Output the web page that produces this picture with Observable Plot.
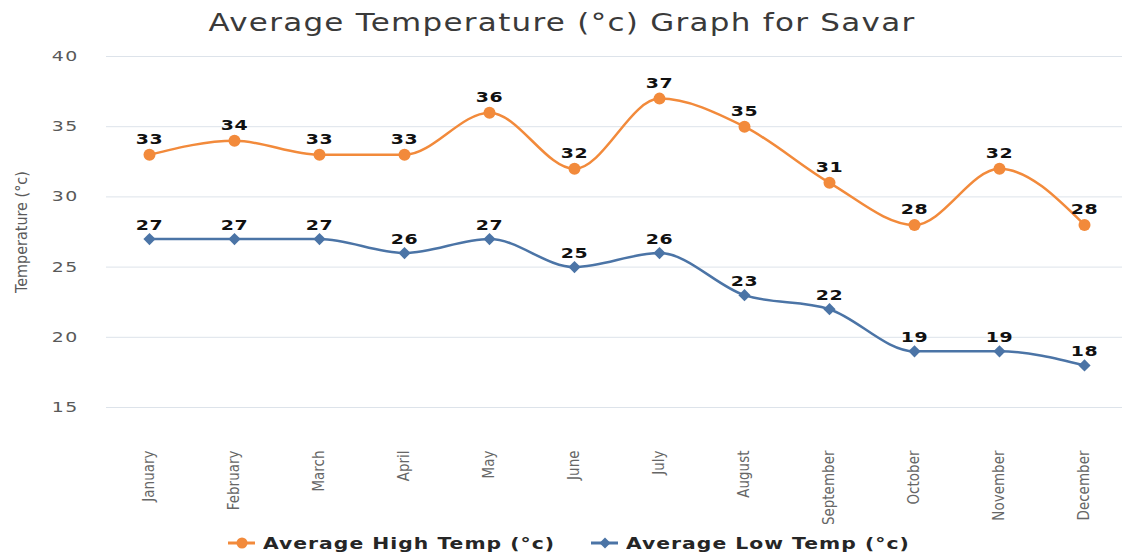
<!DOCTYPE html>
<html>
<head>
<meta charset="utf-8">
<script src="https://cdn.jsdelivr.net/npm/d3@7"></script>
<script src="https://cdn.jsdelivr.net/npm/@observablehq/plot@0.6"></script>
<style>
  html, body { margin: 0; padding: 0; background: #fff; }
  body { width: 1122px; height: 554px; overflow: hidden; font-family: "DejaVu Sans", sans-serif; }
  #title { height: 40px; line-height: 46px; text-align: center; color: #3a3a3a; padding-left: 2px; }
  #title span { display: inline-block; font-size: 24px; letter-spacing: 1px; transform: scaleX(1.29); }
  #chart svg { display: block; }
  #legend { display: flex; justify-content: center; align-items: center; gap: 36px; height: 24px; padding-top: 1px; margin-left: 16px; }
  #legend .item { display: flex; align-items: center; gap: 8px; }
  #legend .item span { display: inline-block; font-weight: bold; font-size: 16px; letter-spacing: 0.8px; color: #262626; transform: scaleX(1.27); transform-origin: left center; }
  g[aria-label="y-axis label"] text { font-family: "Liberation Sans Narrow", "DejaVu Sans Condensed", sans-serif; font-size: 16px; fill: #595959; }
</style>
</head>
<body>
<div id="title"><span>Average Temperature (°c) Graph for Savar</span></div>
<div id="chart"></div>
<div id="legend"></div>
<script>
const months = ["January","February","March","April","May","June","July","August","September","October","November","December"];
const highTemps = [33, 34, 33, 33, 36, 32, 37, 35, 31, 28, 32, 28];
const lowTemps = [27, 27, 27, 26, 27, 25, 26, 23, 22, 19, 19, 18];
const yTicks = [15, 20, 25, 30, 35, 40];
const seriesNames = ["Average High Temp (°c)", "Average Low Temp (°c)"];
const seriesColors = ["#f28a3b", "#4b74a6"];

const high = months.map((m, i) => ({month: m, value: highTemps[i]}));
const low = months.map((m, i) => ({month: m, value: lowTemps[i]}));

const labelFont = {fontFamily: "DejaVu Sans", fontWeight: "bold", fontSize: 14, fill: "#111"};

const chart = Plot.plot({
  width: 1122,
  height: 490,
  marginTop: 16,
  marginBottom: 123,
  marginLeft: 106,
  marginRight: 0,
  x: {type: "point", domain: months, range: [148, 1085], padding: 0},
  y: {domain: [15, 40]},
  marks: [
    Plot.gridY(yTicks, {stroke: "#dde3ea", strokeOpacity: 1, strokeWidth: 1}),
    Plot.axisY(yTicks, {tickSize: 0, tickPadding: 28, fontSize: 14, fill: "#595959", fontFamily: "DejaVu Sans", label: "Temperature (°c)", labelAnchor: "center", labelArrow: "none", labelOffset: 91}),
    Plot.axisX({tickSize: 0, tickPadding: 43, tickRotate: -90, fontSize: 15, fill: "#666", fontFamily: "Liberation Sans Narrow, DejaVu Sans Condensed, sans-serif", label: null}),
    Plot.line(high, {x: "month", y: "value", stroke: seriesColors[0], strokeWidth: 2.5, curve: "monotone-x"}),
    Plot.line(low, {x: "month", y: "value", stroke: seriesColors[1], strokeWidth: 2.5, curve: "monotone-x"}),
    Plot.dot(high, {x: "month", y: "value", fill: seriesColors[0], r: 6, symbol: "circle"}),
    Plot.dot(low, {x: "month", y: "value", fill: seriesColors[1], r: 5.5, symbol: "diamond2"}),
    Plot.text(high, {x: "month", y: "value", text: "value", dy: -15, ...labelFont}),
    Plot.text(low, {x: "month", y: "value", text: "value", dy: -14, ...labelFont})
  ]
});
document.getElementById("chart").appendChild(chart);

// widen glyphs horizontally (the reference text is horizontally stretched);
// appended to Plot's own translate so positions stay those of the scales
function stretch(selector, k, spacing) {
  chart.querySelectorAll(selector).forEach(el => {
    const t = el.getAttribute("transform") || "";
    el.setAttribute("transform", `${t} scale(${k},1)`);
    if (spacing) el.style.letterSpacing = spacing;
  });
}
stretch('g[aria-label="y-axis tick label"] text', 1.35, "1px");
stretch('g[aria-label="text"] text', 1.35, "0.5px");

const legend = document.getElementById("legend");
seriesNames.forEach((name, i) => {
  const item = document.createElement("div");
  item.className = "item";
  const sym = i === 0
    ? `<circle cx="14" cy="7" r="5.5" fill="${seriesColors[i]}"/>`
    : `<path d="M14 1.5 L19.5 7 L14 12.5 L8.5 7 Z" fill="${seriesColors[i]}"/>`;
  item.innerHTML = `<svg width="27" height="14"><line x1="0" x2="27" y1="7" y2="7" stroke="${seriesColors[i]}" stroke-width="3"/>${sym}</svg><span>${name}</span>`;
  legend.appendChild(item);
});
legend.querySelectorAll(".item span").forEach(s => {
  s.style.marginRight = (0.27 * s.offsetWidth) + "px";
});
</script>
</body>
</html>
